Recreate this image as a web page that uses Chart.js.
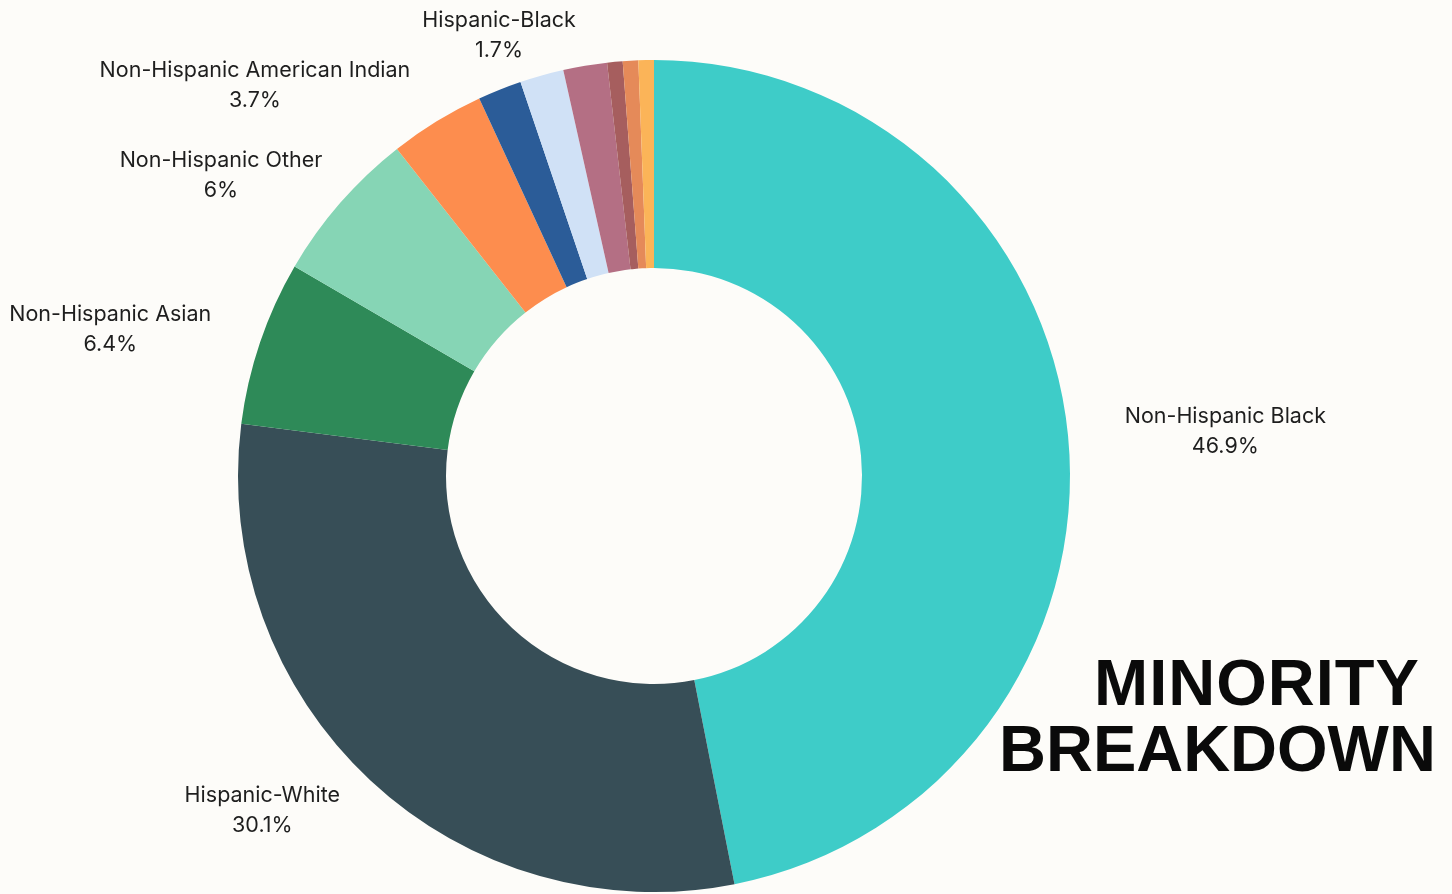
<!DOCTYPE html>
<html>
<head>
  <title>Minority Breakdown</title>
  <style>
    body {
      margin: 0;
      background: #fdfcf9;
      overflow: hidden;
    }
    #wrap {
      position: relative;
      width: 1452px;
      height: 894px;
    }
    #chart {
      position: absolute;
      left: 0;
      top: 0;
    }
    .title {
      position: absolute;
      font-family: "Liberation Sans", Arial, sans-serif;
      font-weight: bold;
      font-size: 65px;
      line-height: 65px;
      color: #0a0a0a;
      white-space: nowrap;
    }
  </style>
</head>
<body>
  <div id="wrap">
    <canvas id="chart" width="1452" height="894"></canvas>
    <div class="title" style="left:1094px; top:650px; letter-spacing:1px;">MINORITY</div>
    <div class="title" style="left:999px; top:716px;">BREAKDOWN</div>
  </div>

  <script src="https://cdn.jsdelivr.net/npm/chart.js"></script>
  <script>
    const categories = [
      "Non-Hispanic Black", "Hispanic-White", "Non-Hispanic Asian", "Non-Hispanic Other",
      "Non-Hispanic American Indian", "Non-Hispanic Pacific Islander", "Hispanic-Black",
      "Hispanic-Other", "Hispanic-Asian", "Hispanic-American Indian", "Hispanic-Pacific Islander"
    ];
    const shares = [46.9, 30.1, 6.4, 6, 3.7, 1.7, 1.7, 1.7, 0.6, 0.6, 0.6];
    const sliceColors = [
      "#3eccc8", "#374e57", "#2e8a58", "#86d5b5", "#fd8d4e", "#2b5c98",
      "#d0e1f6", "#b46f84", "#a65e5e", "#e58a59", "#fbb458"
    ];
    // only these slices get an outside label
    const labelled = [
      "Non-Hispanic Black", "Hispanic-White", "Non-Hispanic Asian",
      "Non-Hispanic Other", "Non-Hispanic American Indian", "Hispanic-Black"
    ];

    // outside labels on an ellipse around the ring, nudged sideways when they collide
    const outsideLabels = {
      id: 'outsideLabels',
      afterDatasetsDraw(chart) {
        const ctx = chart.ctx;
        const meta = chart.getDatasetMeta(0);
        const lineH = 30;
        ctx.save();
        ctx.font = '21.5px Inter, "Noto Sans", sans-serif';
        ctx.fillStyle = '#1e1e1e';
        ctx.textAlign = 'center';
        ctx.textBaseline = 'middle';
        const placed = [];
        for (let i = meta.data.length - 1; i >= 0; i--) {
          const name = chart.data.labels[i];
          if (!labelled.includes(name)) continue;
          const arc = meta.data[i];
          const p = arc.getProps(['x', 'y', 'startAngle', 'endAngle', 'outerRadius']);
          const mid = (p.startAngle + p.endAngle) / 2;
          const rx = p.outerRadius * 1.38;
          const ry = p.outerRadius * 1.10;
          let x = p.x + Math.cos(mid) * rx;
          let y = Math.max(p.y + Math.sin(mid) * ry, 33);
          const value = chart.data.datasets[0].data[i];
          const lines = [name, value + '%'];
          const w = Math.max(...lines.map(l => ctx.measureText(l).width));
          const h = lineH * 2;
          const dir = x < p.x ? -1 : 1;
          let box = { l: x - w / 2, r: x + w / 2, t: y - h / 2, b: y + h / 2 };
          placed.forEach(o => {
            if (box.l < o.r && box.r > o.l && box.t < o.b && box.b > o.t) {
              const shift = dir < 0 ? (box.r - o.l + 12) : (o.r - box.l + 12);
              x += dir * shift;
              box = { l: x - w / 2, r: x + w / 2, t: box.t, b: box.b };
            }
          });
          placed.push(box);
          ctx.fillText(lines[0], x, y - lineH / 2);
          ctx.fillText(lines[1], x, y + lineH / 2);
        }
        ctx.restore();
      }
    };

    new Chart(document.getElementById('chart').getContext('2d'), {
      type: 'doughnut',
      data: {
        labels: categories,
        datasets: [{
          data: shares,
          backgroundColor: sliceColors,
          borderWidth: 0
        }]
      },
      options: {
        responsive: false,
        animation: false,
        cutout: '50%',
        layout: { padding: { left: 238, top: 60, right: 382, bottom: 2 } },
        plugins: {
          legend: { display: false },
          tooltip: { enabled: false }
        }
      },
      plugins: [outsideLabels]
    });
  </script>
</body>
</html>
